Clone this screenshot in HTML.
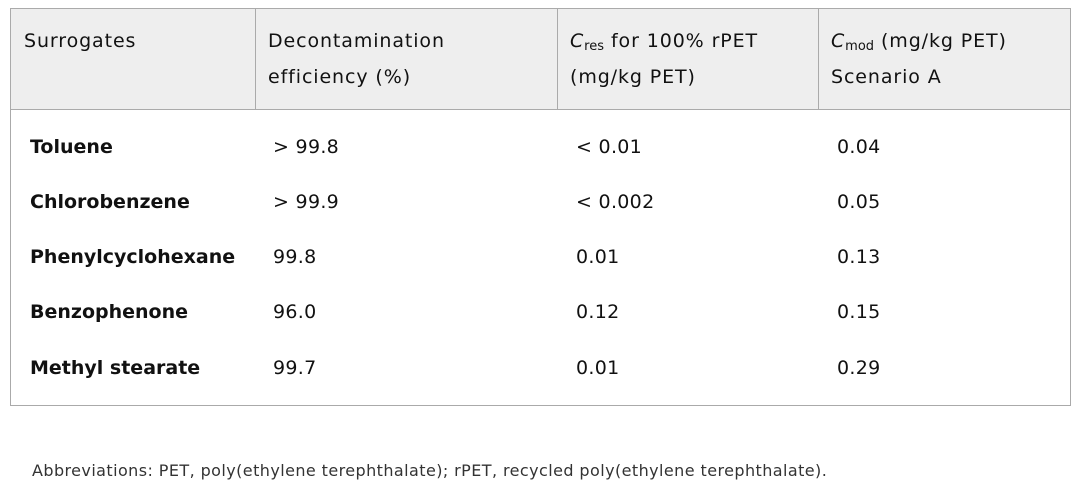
<!DOCTYPE html>
<html><head><style>
body{margin:0;width:1080px;height:491px;background:#fff;font-family:"DejaVu Sans","Liberation Sans",sans-serif;color:#111;position:relative;overflow:hidden}
.box{position:absolute;left:10px;top:8px;width:1061px;height:398px;border:1px solid #aaa;box-sizing:border-box}
.hd{position:absolute;left:0;top:0;width:100%;height:100px;background:#eee;border-bottom:1px solid #aaa}
.v{position:absolute;top:0;width:1px;height:100px;background:#aaa}
.t{position:absolute;font-size:19px;white-space:nowrap;line-height:22px;letter-spacing:0.3px}
.h{letter-spacing:0.9px}
.b{font-weight:bold;letter-spacing:0}
sub{font-size:13px;vertical-align:-3px;letter-spacing:0}
</style></head><body>
<div class="box"><div class="hd"></div>
<div class="v" style="left:244px"></div><div class="v" style="left:546px"></div><div class="v" style="left:807px"></div></div>
<div class="t h" style="left:24px;top:30px">Surrogates</div>
<div class="t h" style="left:268px;top:30px">Decontamination</div>
<div class="t h" style="left:268px;top:66px">efficiency (%)</div>
<div class="t h" style="left:570px;top:30px"><i>C</i><sub>res</sub> for 100% rPET</div>
<div class="t h" style="left:570px;top:66px">(mg/kg PET)</div>
<div class="t h" style="left:831px;top:30px"><i>C</i><sub>mod</sub> (mg/kg PET)</div>
<div class="t h" style="left:831px;top:66px">Scenario A</div>

<div class="t b" style="left:30px;top:136px">Toluene</div><div class="t" style="left:273px;top:136px">&gt; 99.8</div><div class="t" style="left:576px;top:136px">&lt; 0.01</div><div class="t" style="left:837px;top:136px">0.04</div>
<div class="t b" style="left:30px;top:191px">Chlorobenzene</div><div class="t" style="left:273px;top:191px">&gt; 99.9</div><div class="t" style="left:576px;top:191px">&lt; 0.002</div><div class="t" style="left:837px;top:191px">0.05</div>
<div class="t b" style="left:30px;top:246px">Phenylcyclohexane</div><div class="t" style="left:273px;top:246px">99.8</div><div class="t" style="left:576px;top:246px">0.01</div><div class="t" style="left:837px;top:246px">0.13</div>
<div class="t b" style="left:30px;top:301px">Benzophenone</div><div class="t" style="left:273px;top:301px">96.0</div><div class="t" style="left:576px;top:301px">0.12</div><div class="t" style="left:837px;top:301px">0.15</div>
<div class="t b" style="left:30px;top:357px">Methyl stearate</div><div class="t" style="left:273px;top:357px">99.7</div><div class="t" style="left:576px;top:357px">0.01</div><div class="t" style="left:837px;top:357px">0.29</div>

<div class="t" style="left:32px;top:460px;font-size:16px;color:#333;letter-spacing:0.42px">Abbreviations: PET, poly(ethylene terephthalate); rPET, recycled poly(ethylene terephthalate).</div>
</body></html>
